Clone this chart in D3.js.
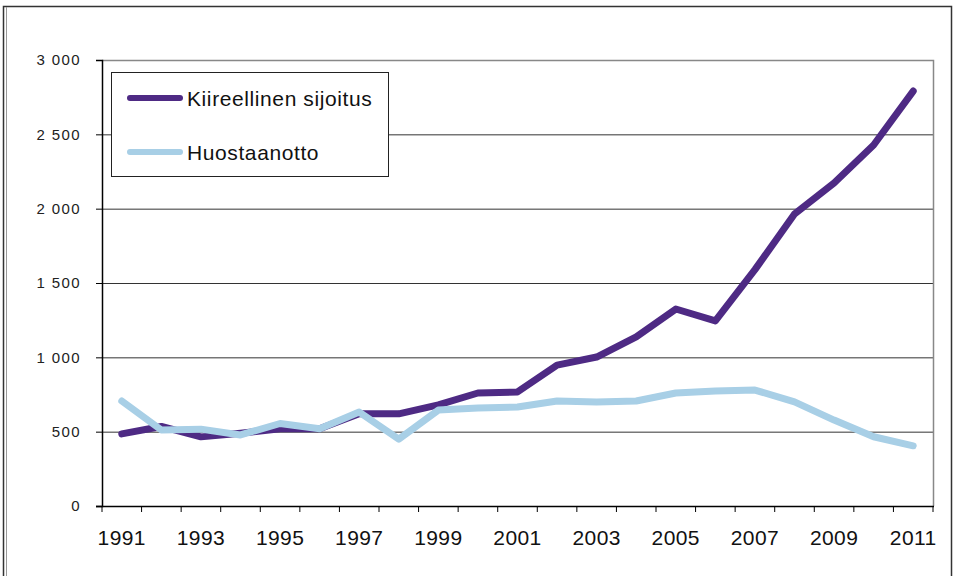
<!DOCTYPE html>
<html>
<head>
<meta charset="utf-8">
<script src="https://cdn.jsdelivr.net/npm/d3@7"></script>
<style>
  body { margin: 0; background: #fff; }
</style>
</head>
<body>
<script>
// ---- data ----
var years = d3.range(1991, 2012);
var kiireellinen = [485, 535, 465, 490, 520, 520, 620, 620, 680, 760, 767, 948, 1002, 1137, 1325, 1245, 1590, 1964, 2173, 2428, 2791];
var huostaanotto = [706, 511, 517, 478, 555, 520, 632, 450, 645, 659, 666, 706, 700, 706, 760, 774, 780, 700, 578, 466, 405];
var yTicks = [0, 500, 1000, 1500, 2000, 2500, 3000];
var seriesNames = ["Kiireellinen sijoitus", "Huostaanotto"];

var purple = "#4e2a84",
    blue = "#a8cfe6";

var W = 958, H = 576;
var plot = { left: 102, right: 933, top: 60, bottom: 506 };

var svg = d3.select("body")
    .append("svg")
    .attr("width", W)
    .attr("height", H);

// outer frame
svg.append("rect")
    .attr("x", 3.5).attr("y", 6.5)
    .attr("width", 948).attr("height", 590)
    .attr("fill", "none")
    .attr("stroke", "#333")
    .attr("stroke-width", 1.5);
svg.append("line")
    .attr("x1", 6.5).attr("x2", 6.5)
    .attr("y1", 7).attr("y2", H)
    .attr("stroke", "#999");

var x = d3.scaleBand()
    .domain(years)
    .range([plot.left, plot.right])
    .paddingInner(0).paddingOuter(0);

var y = d3.scaleLinear()
    .domain([0, 3000])
    .range([plot.bottom, plot.top]);

var fmt = d3.formatLocale({ decimal: ",", thousands: " ", grouping: [3], currency: ["", ""] }).format(",");

// gridlines
svg.append("g")
    .selectAll("line")
    .data(yTicks.filter(function(d) { return d > 0 && d < 3000; }))
    .enter().append("line")
    .attr("x1", plot.left).attr("x2", plot.right)
    .attr("y1", function(d) { return y(d) + 0.5; })
    .attr("y2", function(d) { return y(d) + 0.5; })
    .attr("stroke", "#333")
    .attr("stroke-width", 1);

// plot border top / right (grey)
svg.append("path")
    .attr("d", "M" + plot.left + "," + (y(3000) + 0.5) + "H" + (plot.right + 0.5) + "V" + plot.bottom)
    .attr("fill", "none")
    .attr("stroke", "#888")
    .attr("stroke-width", 1.5);

// y axis
var yAxis = svg.append("g")
    .attr("transform", "translate(" + (plot.left) + ",0)")
    .call(d3.axisLeft(y).tickValues(yTicks).tickFormat(fmt).tickSize(6).tickPadding(15));
yAxis.select(".domain").attr("stroke", "#000").attr("stroke-width", 1.5);
yAxis.selectAll(".tick line").attr("stroke", "#000");
yAxis.selectAll("text")
    .attr("font-family", "'Liberation Sans', Arial, sans-serif")
    .attr("font-size", "15px")
    .attr("letter-spacing", "1.4px")
    .attr("fill", "#222");

// x axis
var xg = svg.append("g");
xg.append("line")
    .attr("x1", plot.left - 6).attr("x2", plot.right + 1)
    .attr("y1", plot.bottom + 0.5).attr("y2", plot.bottom + 0.5)
    .attr("stroke", "#000").attr("stroke-width", 1.5);
xg.selectAll("line.tk")
    .data(years.concat(["end"]))
    .enter().append("line")
    .attr("class", "tk")
    .attr("x1", function(d) { return d === "end" ? plot.right : x(d); })
    .attr("x2", function(d) { return d === "end" ? plot.right : x(d); })
    .attr("y1", plot.bottom).attr("y2", plot.bottom + 6)
    .attr("stroke", "#000");
xg.selectAll("text")
    .data(years.filter(function(d) { return (d - 1991) % 2 === 0; }))
    .enter().append("text")
    .text(function(d) { return d; })
    .attr("x", function(d) { return x(d) + x.bandwidth() / 2; })
    .attr("y", 545)
    .attr("text-anchor", "middle")
    .attr("font-family", "'Liberation Sans', Arial, sans-serif")
    .attr("font-size", "21px")
    .attr("letter-spacing", "0.4px")
    .attr("fill", "#111");

// lines
var line = d3.line()
    .x(function(d, i) { return x(years[i]) + x.bandwidth() / 2; })
    .y(function(d) { return y(d); });

svg.append("path")
    .datum(kiireellinen)
    .attr("d", line)
    .attr("fill", "none")
    .attr("stroke", purple)
    .attr("stroke-width", 7)
    .attr("stroke-linejoin", "round")
    .attr("stroke-linecap", "round");

svg.append("path")
    .datum(huostaanotto)
    .attr("d", line)
    .attr("fill", "none")
    .attr("stroke", blue)
    .attr("stroke-width", 7)
    .attr("stroke-linejoin", "round")
    .attr("stroke-linecap", "round");

// legend
var legend = svg.append("g");
legend.append("rect")
    .attr("x", 111.5).attr("y", 72.5)
    .attr("width", 277).attr("height", 104)
    .attr("fill", "#fff")
    .attr("stroke", "#222")
    .attr("stroke-width", 1);

var legendCols = [purple, blue];
var legendY = [98, 152];
seriesNames.forEach(function(name, i) {
    legend.append("line")
        .attr("x1", 130).attr("x2", 180)
        .attr("y1", legendY[i]).attr("y2", legendY[i])
        .attr("stroke", legendCols[i])
        .attr("stroke-width", 6)
        .attr("stroke-linecap", "round");
    legend.append("text")
        .text(name)
        .attr("x", 187)
        .attr("y", legendY[i] + 7.5)
        .attr("font-family", "'Liberation Sans', Arial, sans-serif")
        .attr("font-size", "21px")
        .attr("letter-spacing", "0.6px")
        .attr("fill", "#111");
});
</script>
</body>
</html>
